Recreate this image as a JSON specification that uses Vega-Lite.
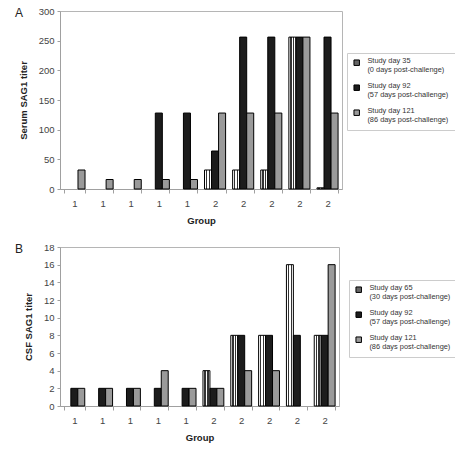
{
  "$schema": "https://vega.github.io/schema/vega-lite/v6.json",
  "padding": {"left": 14, "top": 5, "right": 0, "bottom": 0},
  "spacing": 15,
  "resolve": {
    "scale": {"fill": "independent", "xOffset": "independent", "x": "independent", "y": "independent"},
    "legend": {"fill": "independent"},
    "axis": {"x": "independent", "y": "independent"}
  },
  "config": {
    "font": "Liberation Sans",
    "view": {"stroke": "#b5b5b5", "strokeWidth": 1},
    "axis": {
      "domainColor": "#a0a0a0",
      "tickColor": "#a0a0a0",
      "labelColor": "#444444",
      "labelFontSize": 9.5,
      "labelFont": "Liberation Sans",
      "titleFont": "Liberation Sans",
      "titleFontSize": 9.5,
      "titleFontWeight": "bold",
      "titleColor": "#222222",
      "grid": false
    },
    "axisX": {"labelAngle": 0, "tickBand": "extent", "tickSize": 4, "labelPadding": 5, "titlePadding": 8},
    "axisY": {"tickSize": 3, "labelPadding": 3, "titlePadding": 10},
    "legend": {
      "orient": "none",
      "title": " ",
      "titleOrient": "bottom",
      "titleFontSize": 9,
      "titlePadding": 4,
      "strokeColor": "#cccccc",
      "padding": 6,
      "labelFont": "Liberation Sans",
      "labelFontSize": 7.4,
      "labelColor": "#333333",
      "labelLimit": 0,
      "labelBaseline": "alphabetic",
      "labelOffset": 7,
      "rowPadding": 7,
      "symbolType": "square",
      "symbolSize": 30,
      "symbolStrokeColor": "#000000",
      "symbolStrokeWidth": 1
    },
    "title": {"anchor": "start", "frame": "group", "fontSize": 12, "fontWeight": "normal", "color": "#222222", "offset": 0}
  },
  "vconcat": [
    {
      "width": 282,
      "height": 178,
      "title": {"text": "A", "dx": -45, "dy": 18},
      "data": {"values": [
        {"animal": 1, "group": 1, "series": "Study day 121|(86 days post-challenge)", "titer": 32},
        {"animal": 2, "group": 1, "series": "Study day 121|(86 days post-challenge)", "titer": 16},
        {"animal": 3, "group": 1, "series": "Study day 121|(86 days post-challenge)", "titer": 16},
        {"animal": 4, "group": 1, "series": "Study day 92|(57 days post-challenge)", "titer": 128},
        {"animal": 4, "group": 1, "series": "Study day 121|(86 days post-challenge)", "titer": 16},
        {"animal": 5, "group": 1, "series": "Study day 92|(57 days post-challenge)", "titer": 128},
        {"animal": 5, "group": 1, "series": "Study day 121|(86 days post-challenge)", "titer": 16},
        {"animal": 6, "group": 2, "series": "Study day 35|(0 days post-challenge)", "titer": 32},
        {"animal": 6, "group": 2, "series": "Study day 92|(57 days post-challenge)", "titer": 64},
        {"animal": 6, "group": 2, "series": "Study day 121|(86 days post-challenge)", "titer": 128},
        {"animal": 7, "group": 2, "series": "Study day 35|(0 days post-challenge)", "titer": 32},
        {"animal": 7, "group": 2, "series": "Study day 92|(57 days post-challenge)", "titer": 256},
        {"animal": 7, "group": 2, "series": "Study day 121|(86 days post-challenge)", "titer": 128},
        {"animal": 8, "group": 2, "series": "Study day 35|(0 days post-challenge)", "titer": 32},
        {"animal": 8, "group": 2, "series": "Study day 92|(57 days post-challenge)", "titer": 256},
        {"animal": 8, "group": 2, "series": "Study day 121|(86 days post-challenge)", "titer": 128},
        {"animal": 9, "group": 2, "series": "Study day 35|(0 days post-challenge)", "titer": 256},
        {"animal": 9, "group": 2, "series": "Study day 92|(57 days post-challenge)", "titer": 256},
        {"animal": 9, "group": 2, "series": "Study day 121|(86 days post-challenge)", "titer": 256},
        {"animal": 10, "group": 2, "series": "Study day 35|(0 days post-challenge)", "titer": 2},
        {"animal": 10, "group": 2, "series": "Study day 92|(57 days post-challenge)", "titer": 256},
        {"animal": 10, "group": 2, "series": "Study day 121|(86 days post-challenge)", "titer": 128}
      ]},
      "mark": {"type": "bar", "stroke": "#000000", "strokeWidth": 1},
      "encoding": {
        "x": {
          "field": "animal", "type": "ordinal",
          "scale": {"paddingInner": 0.25, "paddingOuter": 0.14},
          "axis": {"title": "Group", "labelExpr": "isValid(datum.value) && datum.label !== '' ? (+datum.value <= 5 ? '1' : '2') : ''"}
        },
        "xOffset": {
          "field": "series", "type": "nominal",
          "scale": {"domain": ["Study day 35|(0 days post-challenge)", "Study day 92|(57 days post-challenge)", "Study day 121|(86 days post-challenge)"]}
        },
        "y": {
          "field": "titer", "type": "quantitative",
          "scale": {"domain": [0, 300]},
          "axis": {"title": "Serum SAG1 titer", "values": [0, 50, 100, 150, 200, 250, 300]}
        },
        "fill": {
          "condition": {
            "test": "datum.series === 'Study day 35|(0 days post-challenge)'",
            "value": {"gradient": "linear", "x1": 0, "y1": 0, "x2": 1, "y2": 0, "stops": [
              {"offset": 0, "color": "#ffffff"}, {"offset": 0.2, "color": "#ffffff"},
              {"offset": 0.2, "color": "#333333"}, {"offset": 0.4, "color": "#333333"},
              {"offset": 0.4, "color": "#ffffff"}, {"offset": 0.6, "color": "#ffffff"},
              {"offset": 0.6, "color": "#333333"}, {"offset": 0.8, "color": "#333333"},
              {"offset": 0.8, "color": "#ffffff"}, {"offset": 1, "color": "#ffffff"}
            ]}
          },
          "field": "series", "type": "nominal",
          "scale": {
            "domain": ["Study day 35|(0 days post-challenge)", "Study day 92|(57 days post-challenge)", "Study day 121|(86 days post-challenge)"],
            "range": ["#666666", "#1c1c1c", "#9a9a9a"]
          },
          "legend": {"legendX": 287, "legendY": 42, "labelExpr": "split(datum.label, '|')"}
        }
      }
    },
    {
      "width": 279,
      "height": 159,
      "title": {"text": "B", "dx": -45, "dy": 18},
      "data": {"values": [
        {"animal": 1, "group": 1, "series": "Study day 92|(57 days post-challenge)", "titer": 2},
        {"animal": 1, "group": 1, "series": "Study day 121|(86 days post-challenge)", "titer": 2},
        {"animal": 2, "group": 1, "series": "Study day 92|(57 days post-challenge)", "titer": 2},
        {"animal": 2, "group": 1, "series": "Study day 121|(86 days post-challenge)", "titer": 2},
        {"animal": 3, "group": 1, "series": "Study day 92|(57 days post-challenge)", "titer": 2},
        {"animal": 3, "group": 1, "series": "Study day 121|(86 days post-challenge)", "titer": 2},
        {"animal": 4, "group": 1, "series": "Study day 92|(57 days post-challenge)", "titer": 2},
        {"animal": 4, "group": 1, "series": "Study day 121|(86 days post-challenge)", "titer": 4},
        {"animal": 5, "group": 1, "series": "Study day 92|(57 days post-challenge)", "titer": 2},
        {"animal": 5, "group": 1, "series": "Study day 121|(86 days post-challenge)", "titer": 2},
        {"animal": 6, "group": 2, "series": "Study day 65|(30 days post-challenge)", "titer": 4},
        {"animal": 6, "group": 2, "series": "Study day 92|(57 days post-challenge)", "titer": 2},
        {"animal": 6, "group": 2, "series": "Study day 121|(86 days post-challenge)", "titer": 2},
        {"animal": 7, "group": 2, "series": "Study day 65|(30 days post-challenge)", "titer": 8},
        {"animal": 7, "group": 2, "series": "Study day 92|(57 days post-challenge)", "titer": 8},
        {"animal": 7, "group": 2, "series": "Study day 121|(86 days post-challenge)", "titer": 4},
        {"animal": 8, "group": 2, "series": "Study day 65|(30 days post-challenge)", "titer": 8},
        {"animal": 8, "group": 2, "series": "Study day 92|(57 days post-challenge)", "titer": 8},
        {"animal": 8, "group": 2, "series": "Study day 121|(86 days post-challenge)", "titer": 4},
        {"animal": 9, "group": 2, "series": "Study day 65|(30 days post-challenge)", "titer": 16},
        {"animal": 9, "group": 2, "series": "Study day 92|(57 days post-challenge)", "titer": 8},
        {"animal": 10, "group": 2, "series": "Study day 65|(30 days post-challenge)", "titer": 8},
        {"animal": 10, "group": 2, "series": "Study day 92|(57 days post-challenge)", "titer": 8},
        {"animal": 10, "group": 2, "series": "Study day 121|(86 days post-challenge)", "titer": 16}
      ]},
      "mark": {"type": "bar", "stroke": "#000000", "strokeWidth": 1},
      "encoding": {
        "x": {
          "field": "animal", "type": "ordinal",
          "scale": {"paddingInner": 0.25, "paddingOuter": 0.14},
          "axis": {"title": "Group", "labelExpr": "isValid(datum.value) && datum.label !== '' ? (+datum.value <= 5 ? '1' : '2') : ''"}
        },
        "xOffset": {
          "field": "series", "type": "nominal",
          "scale": {"domain": ["Study day 65|(30 days post-challenge)", "Study day 92|(57 days post-challenge)", "Study day 121|(86 days post-challenge)"]}
        },
        "y": {
          "field": "titer", "type": "quantitative",
          "scale": {"domain": [0, 18]},
          "axis": {"title": "CSF SAG1 titer", "values": [0, 2, 4, 6, 8, 10, 12, 14, 16, 18]}
        },
        "fill": {
          "condition": {
            "test": "datum.series === 'Study day 65|(30 days post-challenge)'",
            "value": {"gradient": "linear", "x1": 0, "y1": 0, "x2": 1, "y2": 0, "stops": [
              {"offset": 0, "color": "#ffffff"}, {"offset": 0.2, "color": "#ffffff"},
              {"offset": 0.2, "color": "#333333"}, {"offset": 0.4, "color": "#333333"},
              {"offset": 0.4, "color": "#ffffff"}, {"offset": 0.6, "color": "#ffffff"},
              {"offset": 0.6, "color": "#333333"}, {"offset": 0.8, "color": "#333333"},
              {"offset": 0.8, "color": "#ffffff"}, {"offset": 1, "color": "#ffffff"}
            ]}
          },
          "field": "series", "type": "nominal",
          "scale": {
            "domain": ["Study day 65|(30 days post-challenge)", "Study day 92|(57 days post-challenge)", "Study day 121|(86 days post-challenge)"],
            "range": ["#666666", "#1c1c1c", "#9a9a9a"]
          },
          "legend": {"legendX": 289, "legendY": 33, "labelExpr": "split(datum.label, '|')"}
        }
      }
    }
  ]
}
